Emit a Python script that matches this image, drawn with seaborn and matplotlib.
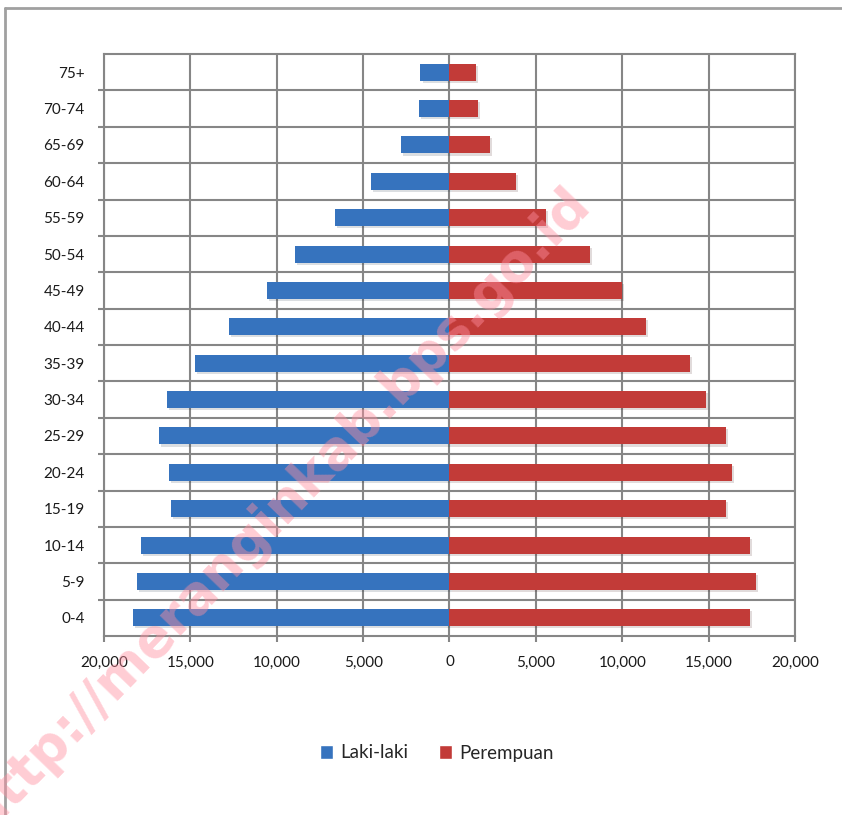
import matplotlib
matplotlib.use("Agg")
import matplotlib.pyplot as plt
import matplotlib.patheffects as pe
from matplotlib.lines import Line2D
from matplotlib.patches import Patch
from matplotlib.ticker import FuncFormatter, FixedLocator
import numpy as np
import pandas as pd
import seaborn as sns

# ---------------------------------------------------------------------------
# data
# ---------------------------------------------------------------------------
age_groups = ["0-4", "5-9", "10-14", "15-19", "20-24", "25-29", "30-34", "35-39",
              "40-44", "45-49", "50-54", "55-59", "60-64", "65-69", "70-74", "75+"]
laki_laki = [18320, 18090, 17860, 16130, 16240, 16820, 16360, 14740,
             12770, 10580, 8960, 6650, 4560, 2830, 1790, 1680]
perempuan = [17380, 17730, 17380, 15990, 16340, 15990, 14840, 13910,
             11370, 9980, 8130, 5590, 3850, 2350, 1660, 1540]
series_names = ["Laki-laki", "Perempuan"]
x_ticks = [-20000, -15000, -10000, -5000, 0, 5000, 10000, 15000, 20000]

BLUE = "#3673BE"
RED = "#C23B38"
GRID = "#868686"

df = pd.concat([
    pd.DataFrame({"age": age_groups, "value": -np.array(laki_laki), "sex": series_names[0]}),
    pd.DataFrame({"age": age_groups, "value": np.array(perempuan), "sex": series_names[1]}),
])

sns.set_theme(style="white")
plt.rcParams["font.family"] = ["Lato", "DejaVu Sans"]

fig = plt.figure(figsize=(8.42, 8.15), dpi=100)
ax = fig.add_axes([104 / 842, 1 - 636 / 815, (795 - 104) / 842, (636 - 54) / 815])

order = age_groups[::-1]  # 75+ on top
sns.barplot(data=df, y="age", x="value", hue="sex", order=order,
            hue_order=series_names, palette=[BLUE, RED], saturation=1, dodge=False,
            width=0.47, orient="h", ax=ax, legend=False, zorder=3)

for patch in ax.patches:
    patch.set_linewidth(0)
    patch.set_path_effects([pe.SimplePatchShadow(offset=(1.5, -1.5), alpha=0.15), pe.Normal()])

n = len(order)
ax.set_xlim(-20000, 20000)
ax.set_ylim(n - 0.5, -0.5)

ax.xaxis.set_major_locator(FixedLocator(x_ticks))
ax.xaxis.set_major_formatter(FuncFormatter(lambda v, _: f"{abs(int(v)):,}"))
ax.set_yticks(np.arange(n - 1) + 0.5, minor=True)
ax.tick_params(axis="y", which="major", length=0, pad=14, labelsize=11, labelcolor="#1a1a1a")
ax.tick_params(axis="y", which="minor", length=4, width=1.5, color=GRID, left=True)
ax.tick_params(axis="x", which="major", length=4, width=1.5, color=GRID, bottom=True,
               pad=10, labelsize=11, labelcolor="#1a1a1a")

ax.grid(False)
ax.xaxis.grid(True, which="major", color=GRID, linewidth=1.5, zorder=0)
ax.yaxis.grid(True, which="minor", color=GRID, linewidth=1.5, zorder=0)
ax.set_axisbelow(True)
for s in ax.spines.values():
    s.set_visible(True)
    s.set_color(GRID)
    s.set_linewidth(1.5)
ax.set_xlabel("")
ax.set_ylabel("")

handles = [Patch(facecolor=BLUE, label=series_names[0]),
           Patch(facecolor=RED, label=series_names[1])]
fig.legend(handles=handles, loc="center", bbox_to_anchor=(437 / 842, 1 - 753 / 815),
           ncol=2, frameon=False, fontsize=13.5, handlelength=0.7, handleheight=0.7,
           handletextpad=0.4, columnspacing=1.6)

# outer frame of the chart area
fig.add_artist(Line2D([5 / 842, 5 / 842], [0, 1 - 7.5 / 815], transform=fig.transFigure,
                      color="#A0A0A0", linewidth=2))
fig.add_artist(Line2D([5 / 842, 1], [1 - 7.5 / 815, 1 - 7.5 / 815], transform=fig.transFigure,
                      color="#A0A0A0", linewidth=2))

# watermark
fig.text(0.33, 0.375, "http://meranginkab.bps.go.id", rotation=46, ha="center", va="center",
         fontsize=38, fontweight="bold", color="#FF8FA0", alpha=0.45, zorder=10,
         family=["DejaVu Sans"])

fig.savefig("out.png", dpi=100)
plt.close(fig)
